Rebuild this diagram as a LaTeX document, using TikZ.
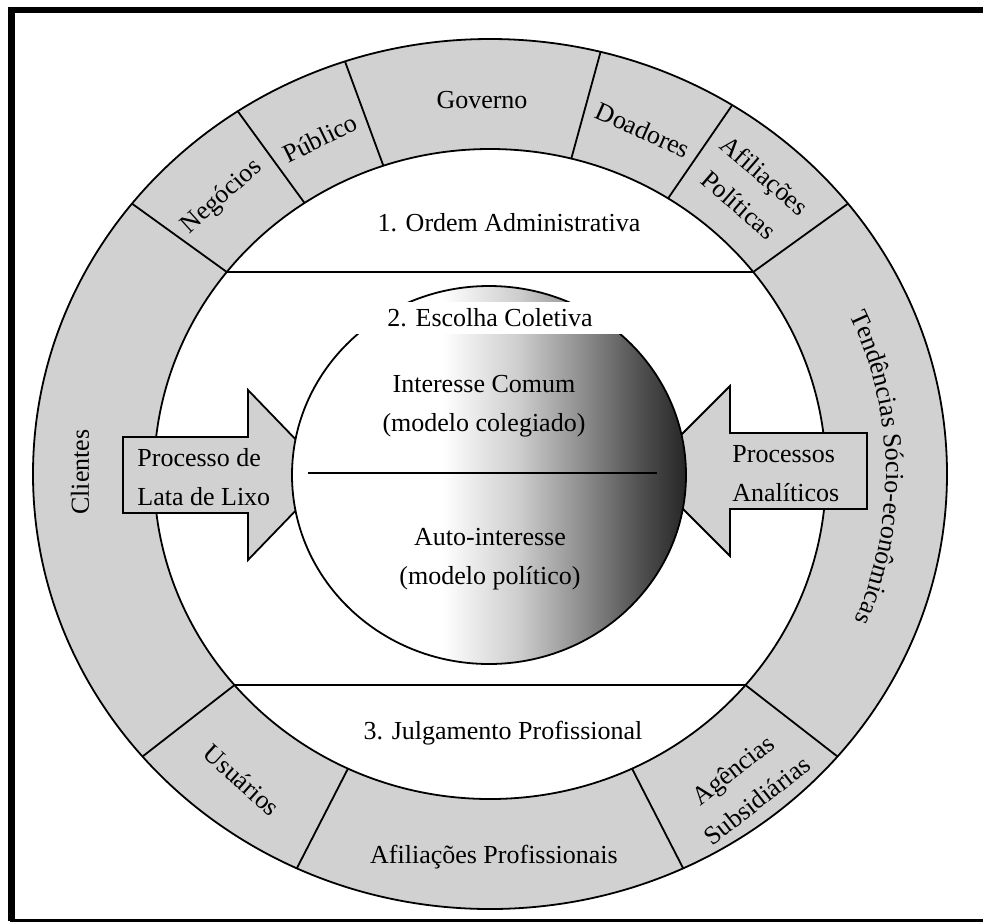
\documentclass[tikz,border=0pt]{standalone}
\usepackage{fontspec}
\setmainfont{Liberation Serif}
\usetikzlibrary{decorations.text}
\pgfdeclarehorizontalshading{spheregrad}{100bp}{color(0bp)=(white); color(44bp)=(white); color(54bp)=(black!20); color(62bp)=(black!45); color(69bp)=(black!68); color(75bp)=(black!85); color(100bp)=(black!85)}

\begin{document}
\begin{tikzpicture}[x=0.5pt, y=0.5pt,
    font=\fontsize{13}{19.5}\selectfont,
    lbl/.style={inner sep=0pt, align=center},
    ringline/.style={line width=0.9pt},
    ringgray/.style={fill=black!18}]
    \useasboundingbox (-490,-449) rectangle (493,474);

    % Frame (open on the right)
    \draw[line width=3.3pt] (493,464) -- (-478.5,464) -- (-478.5,-446.5);
    \draw[line width=1.6pt] (-480,-446.5) -- (493,-446.5);

    % Outer ring of stakeholders
    \draw[ringline, ringgray] (0,0) ellipse [x radius=457, y radius=435];
    \draw[ringline, fill=white] (0,0) ellipse [x radius=336, y radius=325];
    \draw[ringline] (38.43:336 and 325) -- (38.43:457 and 435);
    \draw[ringline] (58:336 and 325) -- (58:457 and 435);
    \draw[ringline] (76:336 and 325) -- (76:457 and 435);
    \draw[ringline] (108.5:336 and 325) -- (108.5:457 and 435);
    \draw[ringline] (123.5:336 and 325) -- (123.5:457 and 435);
    \draw[ringline] (141.57:336 and 325) -- (141.57:457 and 435);
    \draw[ringline] (220.5:336 and 325) -- (220.5:457 and 435);
    \draw[ringline] (245:336 and 325) -- (245:457 and 435);
    \draw[ringline] (295:336 and 325) -- (295:457 and 435);
    \draw[ringline] (319.5:336 and 325) -- (319.5:457 and 435);

    % Bands 1 and 3
    \draw[ringline] (141.57:336 and 325) -- (38.43:336 and 325);
    \draw[ringline] (220.5:336 and 325) -- (319.5:336 and 325);

    % Arrows (tips hidden behind the sphere)
    \draw[ringline, ringgray] (-367,37) -- (-242,37) -- (-242,84) -- (-160,-1)
        -- (-242,-86) -- (-242,-39) -- (-367,-39) -- cycle;
    \draw[ringline, ringgray] (377,41) -- (240,41) -- (240,88) -- (155,3)
        -- (240,-82) -- (240,-35) -- (377,-35) -- cycle;

    % Sphere of collective choice
    \shade[shading=spheregrad] (-1,-1) ellipse [x radius=197, y radius=189];
    \draw[ringline] (-1,-1) ellipse [x radius=197, y radius=189];
    \fill[white] (-215,140) rectangle (215,172);
    \draw[ringline] (-182,1) -- (167,1);

    % Inner labels
    \node[lbl] (escolha) at (0,156) {2. Escolha Coletiva};
    \node[lbl] (ordem) at (19,251) {1. Ordem Administrativa};
    \node[lbl] (julgamento) at (13,-259) {3. Julgamento Profissional};
    \node[lbl] (comum) at (-6,68) {Interesse Comum\\(modelo colegiado)};
    \node[lbl] (auto) at (0,-85) {Auto-interesse\\(modelo político)};
    \node[lbl, align=left, anchor=west] (lixo) at (-353,-3) {Processo de\\Lata de Lixo};
    \node[lbl, align=left, anchor=west] (analiticos) at (242,0) {Processos\\Analíticos};

    % Ring labels
    \node[lbl] (governo) at (-8,374) {Governo};
    \node[lbl, rotate=26] (publico) at (-170,336) {Público};
    \node[lbl, rotate=42] (negocios) at (-268,277) {Negócios};
    \node[lbl, rotate=-24] (doadores) at (153,344) {Doadores};
    \node[lbl, rotate=-41] (afilpol) at (262,284) {Afiliações\\Políticas};
    \node[lbl, rotate=90] (clientes) at (-410,2) {Clientes};
    \node[lbl, rotate=-42] (usuarios) at (-248,-306) {Usuários};
    \node[lbl] (afilprof) at (4,-383) {Afiliações Profissionais};
    \node[lbl, rotate=38] (agencias) at (255,-311) {Agências\\Subsidiárias};
    \path[decorate, decoration={text along path, text align=center,
        text={|\fontsize{13}{19.5}\selectfont|Tendências Sócio-econômicas}}]
        (41:396 and 378) arc [start angle=41, end angle=-39, x radius=396, y radius=378];
\end{tikzpicture}
\end{document}
